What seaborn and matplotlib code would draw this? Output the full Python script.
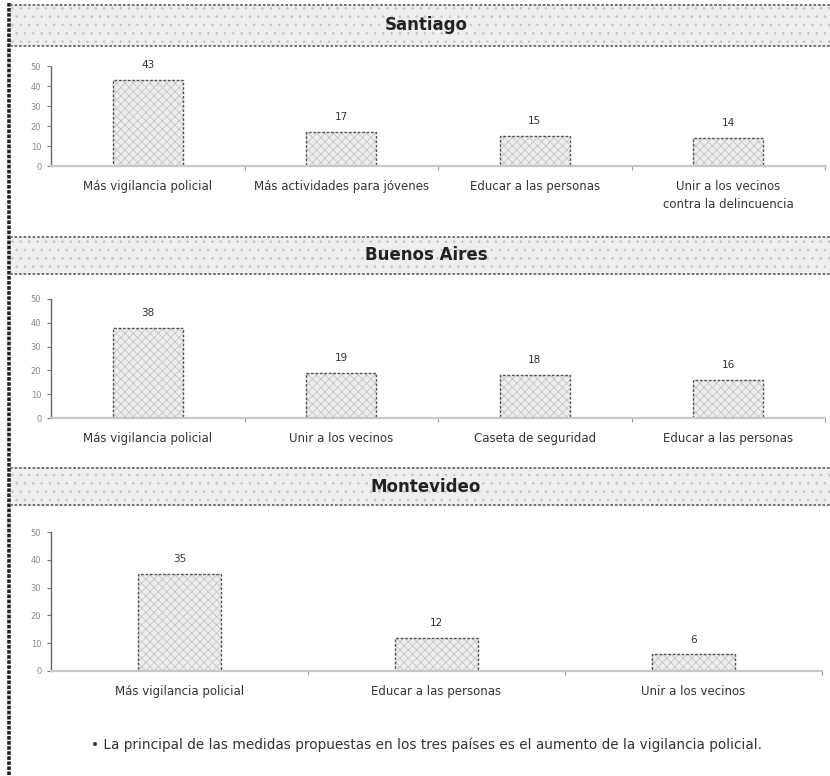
import matplotlib
matplotlib.use("Agg")
import matplotlib.pyplot as plt
from matplotlib.patches import Rectangle
from matplotlib.lines import Line2D
from matplotlib.ticker import FixedLocator
import seaborn as sns
import pandas as pd

# --- data -------------------------------------------------------------
santiago_cats = ["Más vigilancia policial", "Más actividades para jóvenes",
                 "Educar a las personas", "Unir a los vecinos\ncontra la delincuencia"]
santiago_vals = [43, 17, 15, 14]

baires_cats = ["Más vigilancia policial", "Unir a los vecinos",
               "Caseta de seguridad", "Educar a las personas"]
baires_vals = [38, 19, 18, 16]

montevideo_cats = ["Más vigilancia policial", "Educar a las personas",
                   "Unir a los vecinos"]
montevideo_vals = [35, 12, 6]

city_titles = ["Santiago", "Buenos Aires", "Montevideo"]
y_ticks = [0, 10, 20, 30, 40, 50]
footnote = ("• La principal de las medidas propuestas en los tres países "
            "es el aumento de la vigilancia policial.")

# --- style ------------------------------------------------------------
sns.set_style("white")
plt.rcParams["font.family"] = ["Liberation Sans Narrow", "DejaVu Sans"]
plt.rcParams["hatch.linewidth"] = 0.6

W, H = 830, 776
fig = plt.figure(figsize=(W / 100, H / 100), dpi=100)


def fx(px):
    return px / W


def fy(py):
    return 1 - py / H


# outer frame on the left
fig.add_artist(Line2D([fx(9), fx(9)], [fy(3), fy(776)], color="#222222",
                      lw=2.6, linestyle=(0, (1, 0.4)), transform=fig.transFigure))

# title bands
bands = [(5, 46), (237, 274), (468, 505)]
for (top, bot), title in zip(bands, city_titles):
    rect = Rectangle((fx(10), fy(bot)), fx(830 - 10), (bot - top) / H,
                     transform=fig.transFigure, facecolor="#efefef",
                     edgecolor="#c4c4c4", hatch="..", linewidth=0)
    fig.add_artist(rect)
    for yy in (top, bot):
        fig.add_artist(Line2D([fx(10), fx(830)], [fy(yy), fy(yy)],
                              color="#6a6a6a", lw=1.3, linestyle=(0, (1.5, 1)),
                              transform=fig.transFigure))
    fig.text(fx(426), fy((top + bot) / 2), title, ha="center", va="center",
             fontsize=12, fontweight="bold", color="#222222",
             family=["Liberation Sans Narrow", "DejaVu Sans"])

# chart areas: (left, right, y of zero, y of 50) in pixels
panels = [
    (santiago_cats, santiago_vals, (51, 825, 166, 66)),
    (baires_cats, baires_vals, (51, 825, 418, 299)),
    (montevideo_cats, montevideo_vals, (51, 822, 671, 532)),
]

for cats, vals, (x0, x1, y0, y50) in panels:
    ax = fig.add_axes([fx(x0), fy(y0), (x1 - x0) / W, (y0 - y50) / H])
    df = pd.DataFrame({"medida": cats, "porcentaje": vals})
    width = 0.36 if len(cats) == 4 else 0.32

    # hatched fill
    sns.barplot(data=df, x="medida", y="porcentaje", order=cats, ax=ax,
                color="#eeeeee", saturation=1, width=width, errorbar=None)
    for p in ax.patches:
        p.set_hatch("xxxx")
        p.set_edgecolor("#c6c6c6")
        p.set_linewidth(0)
    # dashed outline
    sns.barplot(data=df, x="medida", y="porcentaje", order=cats, ax=ax,
                fill=False, color="#555555", width=width, errorbar=None,
                linewidth=1.0)
    for p in ax.containers[1]:
        p.set_linestyle((0, (2, 1.2)))
        p.set_edgecolor("#555555")

    ax.bar_label(ax.containers[0], labels=[str(v) for v in vals], padding=7,
                 fontsize=7.5, color="#333333")

    n = len(cats)
    ax.set_xlim(-0.5, n - 0.5)
    ax.set_ylim(0, 50)
    ax.set_yticks(y_ticks)
    ax.set_yticklabels([str(t) for t in y_ticks], fontsize=6, color="#888888")
    ax.set_xlabel("")
    ax.set_ylabel("")
    for lbl in ax.get_xticklabels():
        lbl.set_linespacing(1.5)
    ax.tick_params(axis="x", which="major", length=0, pad=10, labelsize=8.5,
                   labelcolor="#333333")
    ax.tick_params(axis="y", which="major", length=3, width=0.8,
                   color="#777777", pad=4, direction="out", left=True)
    ax.xaxis.set_minor_locator(FixedLocator([i + 0.5 for i in range(n)]))
    ax.tick_params(axis="x", which="minor", length=3, width=0.8,
                   color="#999999", direction="out", bottom=True)
    for s in ("top", "right"):
        ax.spines[s].set_visible(False)
    ax.spines["left"].set_color("#666666")
    ax.spines["left"].set_linewidth(1.0)
    ax.spines["left"].set_linestyle((0, (1.5, 1)))
    ax.spines["bottom"].set_color("#c8c8c8")
    ax.spines["bottom"].set_linewidth(1.6)
    ax.patch.set_alpha(0)

fig.text(fx(426), fy(745), footnote, ha="center", va="center", fontsize=9.8,
         color="#333333")

fig.savefig("out.png", dpi=100)
